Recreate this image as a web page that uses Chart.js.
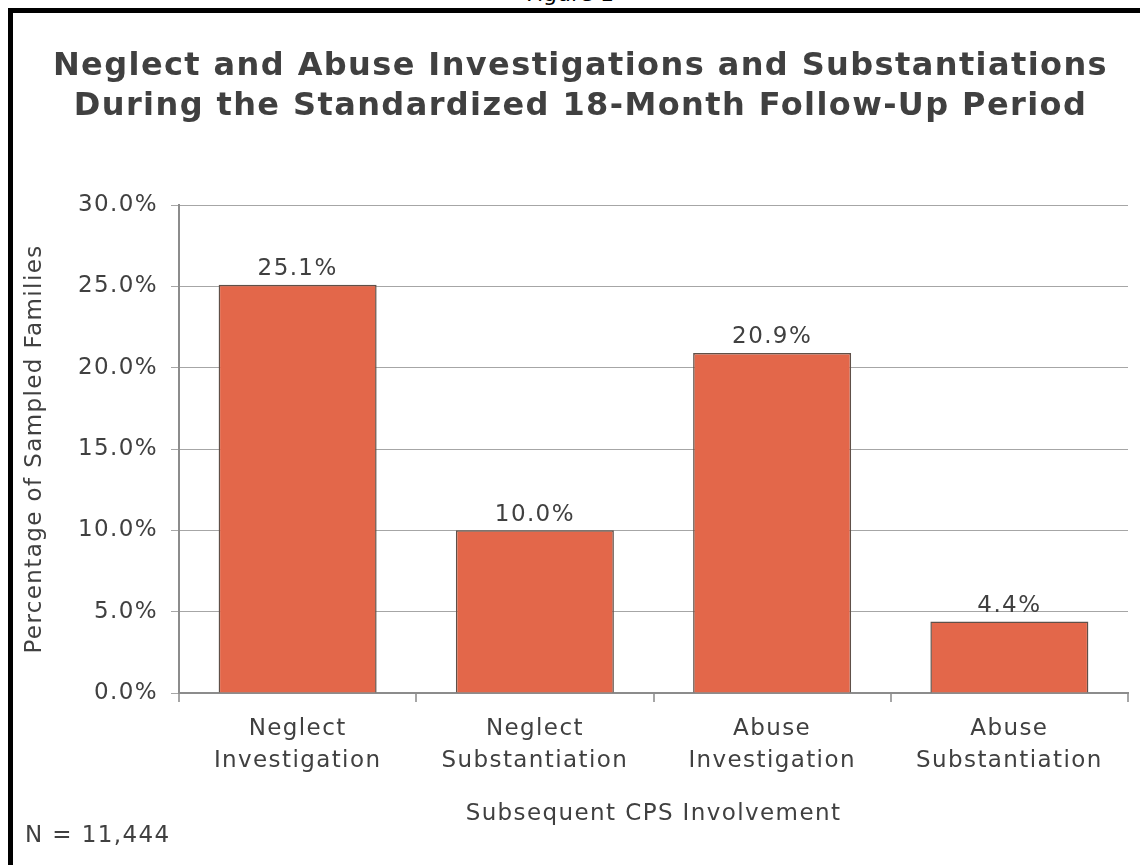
<!DOCTYPE html>
<html>
<head>
<meta charset="utf-8">
<script src="https://cdn.jsdelivr.net/npm/chart.js@4/dist/chart.umd.min.js"></script>
<style>
  html, body { margin: 0; padding: 0; width: 1140px; height: 865px; overflow: hidden; background: #fff; }
  #frame { position: absolute; left: 8px; top: 8px; width: 1300px; height: 1000px; border-top: 5px solid #000; border-left: 5px solid #000; }
  #fig { position: absolute; left: 0; width: 1140px; top: -17px; text-align: center; font-family: "DejaVu Sans", sans-serif; font-size: 22px; line-height: 22px; color: #000; }
  #note { position: absolute; left: 25px; top: 821px; font-family: "DejaVu Sans", sans-serif; font-size: 23px; line-height: 26px; letter-spacing: 1.4px; color: #404040; }
  canvas { position: absolute; left: 0; top: 0; }
</style>
</head>
<body>
<div id="frame"></div>
<div id="fig">Figure 1</div>
<canvas id="c" width="1140" height="865"></canvas>
<div id="note">N = 11,444</div>
<script>
const categories = [
  ['Neglect', 'Investigation'],
  ['Neglect', 'Substantiation'],
  ['Abuse', 'Investigation'],
  ['Abuse', 'Substantiation']
];
const values = [25.1, 10.0, 20.9, 4.4];
const titleLines = [
  'Neglect and Abuse Investigations and Substantiations',
  'During the Standardized 18-Month Follow-Up Period'
];
const yAxisTitle = 'Percentage of Sampled Families';
const xAxisTitle = 'Subsequent CPS Involvement';

const FONT = '"DejaVu Sans", Verdana, sans-serif';
const TEXT = '#404040';

const spacingPlugin = {
  id: 'spacing',
  beforeUpdate(chart) { chart.ctx.letterSpacing = '1.4px'; },
  beforeDraw(chart) { chart.ctx.letterSpacing = '1.4px'; }
};

const valueLabels = {
  id: 'valueLabels',
  afterDatasetsDraw(chart) {
    const ctx = chart.ctx;
    const meta = chart.getDatasetMeta(0);
    ctx.save();
    ctx.letterSpacing = '1.4px';
    ctx.font = '23px ' + FONT;
    ctx.fillStyle = TEXT;
    ctx.textAlign = 'center';
    ctx.textBaseline = 'bottom';
    meta.data.forEach((bar, i) => {
      ctx.fillText(values[i].toFixed(1) + '%', bar.x, bar.y - 4);
    });
    ctx.restore();
  }
};

new Chart(document.getElementById('c'), {
  type: 'bar',
  data: {
    labels: categories,
    datasets: [{
      data: values,
      backgroundColor: '#E3674A',
      borderColor: '#5f5048',
      borderWidth: 1.5,
      barPercentage: 0.666,
      categoryPercentage: 1.0
    }]
  },
  options: {
    responsive: false,
    animation: false,
    layout: { padding: { left: 33, right: 12, top: 13, bottom: 0 } },
    plugins: {
      legend: { display: false },
      tooltip: { enabled: false },
      title: {
        display: true,
        text: titleLines,
        color: TEXT,
        font: { family: FONT, size: 32, weight: 'bold', lineHeight: 1.25 },
        padding: { top: 34, bottom: 78 }
      }
    },
    scales: {
      y: {
        min: 0, max: 30,
        afterFit(scale) { scale.width = 146; },
        ticks: {
          stepSize: 5,
          padding: 13,
          color: TEXT,
          font: { family: FONT, size: 23 },
          callback: v => v.toFixed(1) + '%'
        },
        grid: { color: '#a6a6a6', lineWidth: 1, tickLength: 8, drawTicks: true },
        border: { color: '#8c8c8c', width: 2 },
        title: {
          display: true,
          text: yAxisTitle,
          color: TEXT,
          font: { family: FONT, size: 23, lineHeight: 1.2 },
          padding: { top: -11.8, bottom: 0 }
        }
      },
      x: {
        afterFit(scale) { scale.height = 172; },
        ticks: {
          padding: 12,
          color: TEXT,
          maxRotation: 0,
          autoSkip: false,
          font: { family: FONT, size: 23, lineHeight: 1.35 }
        },
        grid: { offset: true, drawOnChartArea: false, drawTicks: true, tickLength: 9, color: '#a6a6a6', lineWidth: 2 },
        border: { color: '#8c8c8c', width: 2 },
        title: {
          display: true,
          text: xAxisTitle,
          color: TEXT,
          font: { family: FONT, size: 23, lineHeight: 1.2 },
          padding: { top: 0, bottom: 37 }
        }
      }
    }
  },
  plugins: [spacingPlugin, valueLabels]
});
</script>
</body>
</html>
